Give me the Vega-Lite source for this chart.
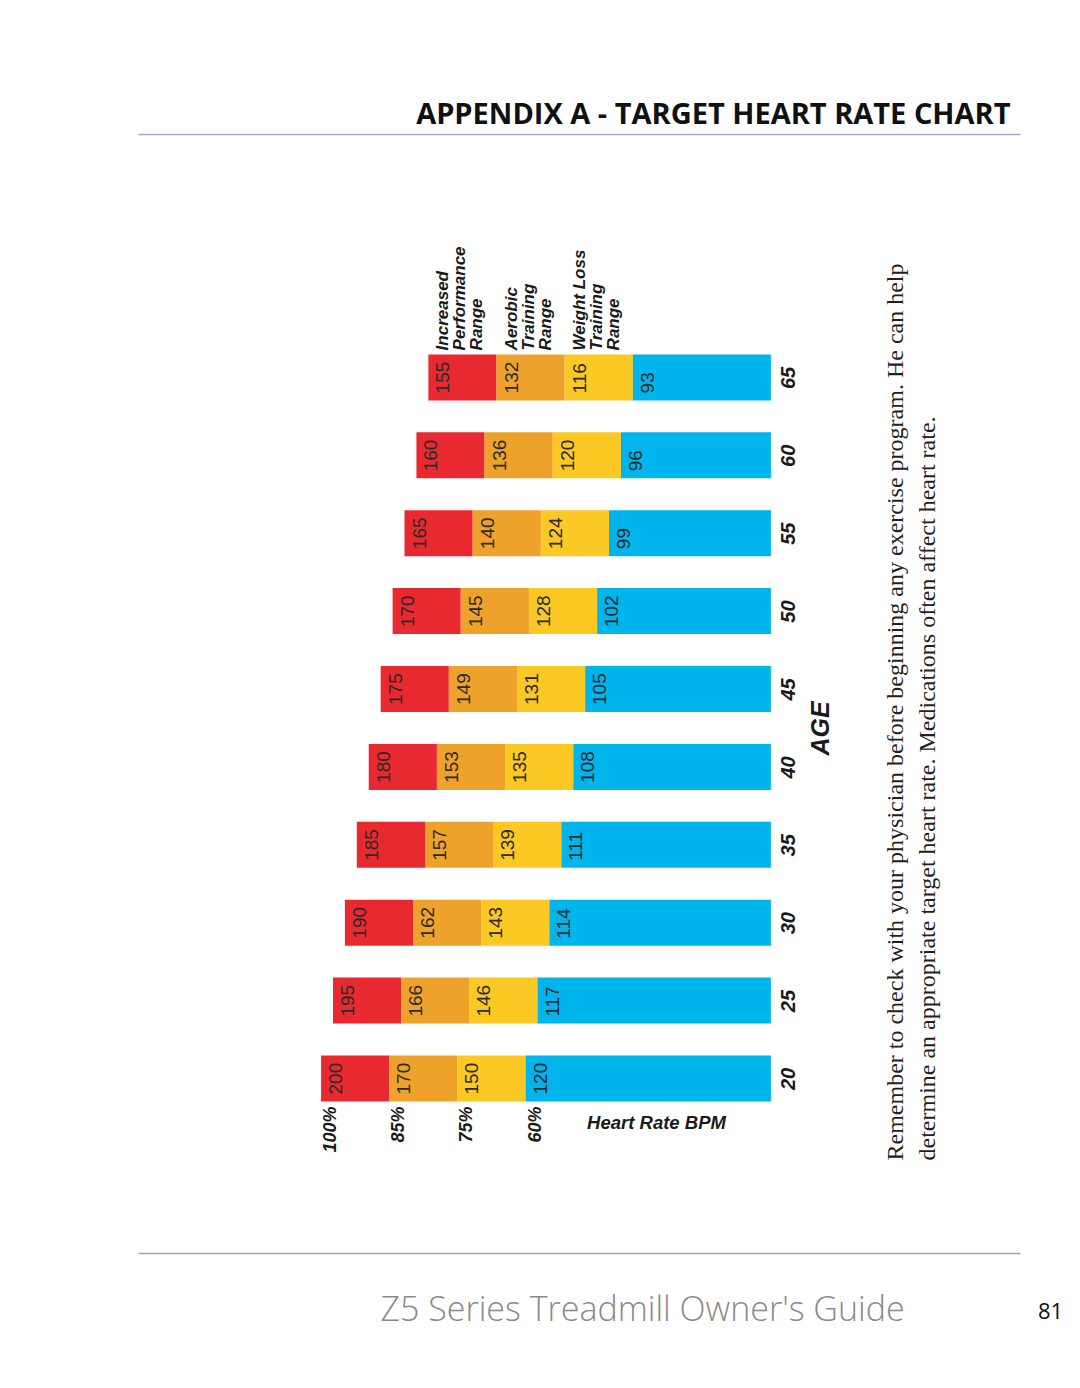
{
  "$schema": "https://vega.github.io/schema/vega-lite/v6.json",
  "width": 882,
  "height": 1119,
  "autosize": "none",
  "padding": {"left": 138, "top": 134, "right": 60, "bottom": 135},
  "background": "white",
  "config": {"view": {"stroke": null}, "axis": {"grid": false}},
  "datasets": {
    "zones": [
      {"zone": "Increased Performance Range", "pct": "100%", "caption": ["Increased", "Performance", "Range"]},
      {"zone": "Aerobic Training Range", "pct": "85%", "caption": ["Aerobic", "Training", "Range"]},
      {"zone": "Weight Loss Training Range", "pct": "75%", "caption": ["Weight Loss", "Training", "Range"]},
      {"zone": "Below Training Range", "pct": "60%", "caption": null}
    ],
    "hr": [
      {"age": 20, "zone": "Increased Performance Range", "bpm": 200, "start": 200, "end": 171.4},
      {"age": 20, "zone": "Aerobic Training Range", "bpm": 170, "start": 171.4, "end": 142.8},
      {"age": 20, "zone": "Weight Loss Training Range", "bpm": 150, "start": 142.8, "end": 114.2},
      {"age": 20, "zone": "Below Training Range", "bpm": 120, "start": 114.2, "end": 11.3},
      {"age": 25, "zone": "Increased Performance Range", "bpm": 195, "start": 195, "end": 166.4},
      {"age": 25, "zone": "Aerobic Training Range", "bpm": 166, "start": 166.4, "end": 137.8},
      {"age": 25, "zone": "Weight Loss Training Range", "bpm": 146, "start": 137.8, "end": 109.2},
      {"age": 25, "zone": "Below Training Range", "bpm": 117, "start": 109.2, "end": 11.3},
      {"age": 30, "zone": "Increased Performance Range", "bpm": 190, "start": 190, "end": 161.4},
      {"age": 30, "zone": "Aerobic Training Range", "bpm": 162, "start": 161.4, "end": 132.8},
      {"age": 30, "zone": "Weight Loss Training Range", "bpm": 143, "start": 132.8, "end": 104.2},
      {"age": 30, "zone": "Below Training Range", "bpm": 114, "start": 104.2, "end": 11.3},
      {"age": 35, "zone": "Increased Performance Range", "bpm": 185, "start": 185, "end": 156.4},
      {"age": 35, "zone": "Aerobic Training Range", "bpm": 157, "start": 156.4, "end": 127.8},
      {"age": 35, "zone": "Weight Loss Training Range", "bpm": 139, "start": 127.8, "end": 99.2},
      {"age": 35, "zone": "Below Training Range", "bpm": 111, "start": 99.2, "end": 11.3},
      {"age": 40, "zone": "Increased Performance Range", "bpm": 180, "start": 180, "end": 151.4},
      {"age": 40, "zone": "Aerobic Training Range", "bpm": 153, "start": 151.4, "end": 122.8},
      {"age": 40, "zone": "Weight Loss Training Range", "bpm": 135, "start": 122.8, "end": 94.2},
      {"age": 40, "zone": "Below Training Range", "bpm": 108, "start": 94.2, "end": 11.3},
      {"age": 45, "zone": "Increased Performance Range", "bpm": 175, "start": 175, "end": 146.4},
      {"age": 45, "zone": "Aerobic Training Range", "bpm": 149, "start": 146.4, "end": 117.8},
      {"age": 45, "zone": "Weight Loss Training Range", "bpm": 131, "start": 117.8, "end": 89.2},
      {"age": 45, "zone": "Below Training Range", "bpm": 105, "start": 89.2, "end": 11.3},
      {"age": 50, "zone": "Increased Performance Range", "bpm": 170, "start": 170, "end": 141.4},
      {"age": 50, "zone": "Aerobic Training Range", "bpm": 145, "start": 141.4, "end": 112.8},
      {"age": 50, "zone": "Weight Loss Training Range", "bpm": 128, "start": 112.8, "end": 84.2},
      {"age": 50, "zone": "Below Training Range", "bpm": 102, "start": 84.2, "end": 11.3},
      {"age": 55, "zone": "Increased Performance Range", "bpm": 165, "start": 165, "end": 136.4},
      {"age": 55, "zone": "Aerobic Training Range", "bpm": 140, "start": 136.4, "end": 107.8},
      {"age": 55, "zone": "Weight Loss Training Range", "bpm": 124, "start": 107.8, "end": 79.2},
      {"age": 55, "zone": "Below Training Range", "bpm": 99, "start": 79.2, "end": 11.3},
      {"age": 60, "zone": "Increased Performance Range", "bpm": 160, "start": 160, "end": 131.4},
      {"age": 60, "zone": "Aerobic Training Range", "bpm": 136, "start": 131.4, "end": 102.8},
      {"age": 60, "zone": "Weight Loss Training Range", "bpm": 120, "start": 102.8, "end": 74.2},
      {"age": 60, "zone": "Below Training Range", "bpm": 96, "start": 74.2, "end": 11.3},
      {"age": 65, "zone": "Increased Performance Range", "bpm": 155, "start": 155, "end": 126.4},
      {"age": 65, "zone": "Aerobic Training Range", "bpm": 132, "start": 126.4, "end": 97.8},
      {"age": 65, "zone": "Weight Loss Training Range", "bpm": 116, "start": 97.8, "end": 69.2},
      {"age": 65, "zone": "Below Training Range", "bpm": 93, "start": 69.2, "end": 11.3}
    ]
  },
  "data": {"name": "hr"},
  "resolve": {"axis": {"x": "independent", "y": "independent"}},
  "layer": [
    {
      "mark": {"type": "bar", "size": 46},
      "encoding": {
        "y": {
          "field": "age", "type": "quantitative",
          "scale": {"domain": [9.12, 80.3], "nice": false, "zero": false},
          "axis": {
            "orient": "right", "offset": -248,
            "values": [20, 25, 30, 35, 40, 45, 50, 55, 60, 65],
            "domain": false, "ticks": false, "tickSize": 0, "grid": false,
            "labelAngle": 270, "labelAlign": "center", "labelBaseline": "top",
            "labelPadding": 6.5, "labelOverlap": false, "labelFlush": false,
            "labelFont": "Liberation Sans", "labelFontSize": 20, "labelFontWeight": "bold",
            "labelFontStyle": "italic", "labelColor": "#1a1a1a",
            "title": "AGE", "titleAngle": 270, "titleX": 48, "titleY": 594,
            "titleAlign": "center", "titleBaseline": "middle",
            "titleFont": "Liberation Sans", "titleFontSize": 25, "titleFontWeight": "bold",
            "titleFontStyle": "italic", "titleColor": "#1a1a1a"
          }
        },
        "x": {
          "field": "start", "type": "quantitative",
          "scale": {"domain": [-93.2, 276.8], "reverse": true, "nice": false, "zero": false},
          "axis": {
            "orient": "top", "labels": false, "ticks": false, "grid": false,
            "domain": true, "domainColor": "#a7a5c6", "domainWidth": 1.5,
            "title": "APPENDIX A - TARGET HEART RATE CHART",
            "titleX": 872, "titleY": -11, "titleAlign": "right", "titleBaseline": "alphabetic",
            "titleFont": "Open Sans", "titleFontSize": 29, "titleFontWeight": "bold",
            "titleColor": "#111111"
          }
        },
        "x2": {"field": "end"},
        "color": {
          "field": "zone", "type": "nominal",
          "scale": {
            "domain": ["Increased Performance Range", "Aerobic Training Range", "Weight Loss Training Range", "Below Training Range"],
            "range": ["#e8292f", "#eea22c", "#fbc824", "#00b4ec"]
          },
          "legend": null
        }
      }
    },
    {
      "mark": {"type": "text", "angle": 270, "align": "left", "baseline": "top", "dx": -16, "dy": 6,
               "font": "Liberation Sans", "fontSize": 19, "color": "#2b2b2b"},
      "encoding": {
        "x": {
          "field": "start", "type": "quantitative",
          "axis": {
            "orient": "bottom", "labels": false, "ticks": false, "grid": false,
            "domain": true, "domainColor": "#a3a3b5", "domainWidth": 1.5,
            "title": "Z5 Series Treadmill Owner's Guide",
            "titleX": 504, "titleY": 67, "titleAlign": "center", "titleBaseline": "alphabetic",
            "titleFont": "Open Sans", "titleFontSize": 34, "titleFontWeight": 300, "titleColor": "#8a8a8a"
          }
        },
        "y": {
          "field": "age", "type": "quantitative",
          "axis": {
            "orient": "left", "labels": false, "ticks": false, "domain": false, "grid": false,
            "title": ["Remember to check with your physician before beginning any exercise program. He can help",
                      "determine an appropriate target heart rate. Medications often affect heart rate."],
            "titleAngle": 270, "titleX": 764, "titleY": 1026, "titleAlign": "left", "titleBaseline": "alphabetic",
            "titleFont": "Liberation Serif", "titleFontSize": 24, "titleFontWeight": "normal",
            "titleColor": "#231f20", "titleLineHeight": 32
          }
        },
        "text": {"field": "bpm", "type": "quantitative"}
      }
    },
    {
      "transform": [
        {"filter": "datum.age == 20"},
        {"lookup": "zone", "from": {"data": {"name": "zones"}, "key": "zone", "fields": ["pct"]}}
      ],
      "mark": {"type": "text", "angle": 270, "align": "right", "baseline": "top", "dx": -28, "dy": 1,
               "font": "Liberation Sans", "fontSize": 18, "fontWeight": "bold", "fontStyle": "italic", "color": "#1a1a1a"},
      "encoding": {
        "x": {
          "field": "start", "type": "quantitative",
          "axis": {
            "orient": "bottom", "labels": false, "ticks": false, "grid": false, "domain": false,
            "title": "Heart Rate BPM",
            "titleX": 518, "titleY": -125, "titleAlign": "center", "titleBaseline": "alphabetic",
            "titleFont": "Liberation Sans", "titleFontSize": 18.5, "titleFontWeight": "bold",
            "titleFontStyle": "italic", "titleColor": "#1a1a1a"
          }
        },
        "y": {"field": "age", "type": "quantitative", "axis": null},
        "text": {"field": "pct", "type": "nominal"}
      }
    },
    {
      "transform": [
        {"filter": "datum.age == 65"},
        {"lookup": "zone", "from": {"data": {"name": "zones"}, "key": "zone", "fields": ["caption"]}},
        {"filter": "isValid(datum.caption)"}
      ],
      "mark": {"type": "text", "angle": 270, "align": "left", "baseline": "top", "dx": 27, "dy": 7,
               "font": "Liberation Sans", "fontSize": 17, "fontWeight": "bold", "fontStyle": "italic",
               "lineHeight": 17, "color": "#1a1a1a"},
      "encoding": {
        "x": {"field": "start", "type": "quantitative", "axis": null},
        "y": {
          "field": "age", "type": "quantitative",
          "axis": {
            "orient": "right", "labels": false, "ticks": false, "domain": false, "grid": false,
            "title": "81", "titleAngle": 0, "titleX": 30, "titleY": 1184,
            "titleAlign": "center", "titleBaseline": "alphabetic",
            "titleFont": "Open Sans", "titleFontSize": 22, "titleFontWeight": "normal",
            "titleColor": "#111111"
          }
        },
        "text": {"field": "caption", "type": "nominal"}
      }
    }
  ]
}
